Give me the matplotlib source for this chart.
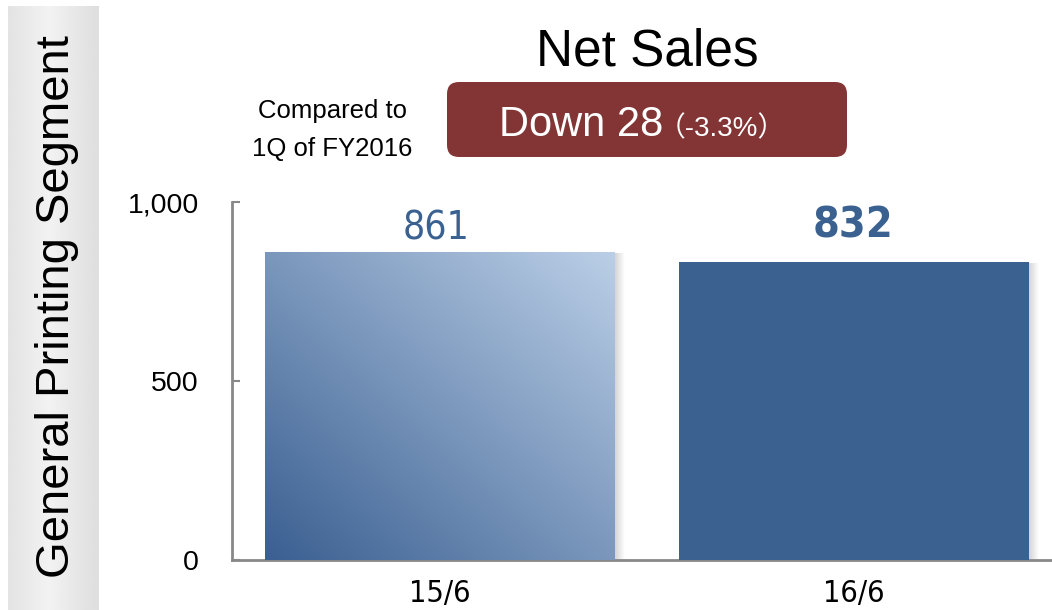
import numpy as np
import matplotlib
matplotlib.use("Agg")
import matplotlib.pyplot as plt
from matplotlib import font_manager
from matplotlib.patches import FancyBboxPatch

# data
periods = ["15/6", "16/6"]
net_sales = [861, 832]
y_ticks = [0, 500, 1000]
y_tick_labels = ["0", "500", "1,000"]
segment = "General Printing Segment"
title = "Net Sales"
compare_text = "Compared to\n1Q of FY2016"
change_main = "Down 28"
change_pct = "（-3.3%）"

BLUE = "#3A6190"
RED_BOX = "#833535"
SANS = "Liberation Sans"


def narrow_file(bold=False):
    # look for any condensed / narrow sans face that is installed
    cands = []
    for f in font_manager.fontManager.ttflist:
        nm = f.name.lower()
        fn = f.fname.lower()
        narrowish = ("narrow" in nm or "condensed" in nm or "condensed" in fn
                     or "narrow" in fn or str(f.stretch) in ("condensed", "semi-condensed"))
        if not narrowish or "italic" in fn or "oblique" in fn or f.style != "normal":
            continue
        w = f.weight if isinstance(f.weight, int) else (700 if f.weight == "bold" else 400)
        score = abs(w - (700 if bold else 400))
        if "light" in fn or "thin" in fn or "medium" in fn or "black" in fn:
            score += 50
        if "serif" in nm and "sans" not in nm:
            score += 1000
        if "mono" in nm:
            score += 1000
        cands.append((score, f.fname))
    if cands:
        cands.sort()
        return cands[0][1]
    return None


NARROW = narrow_file()
NARROW_BOLD = narrow_file(bold=True)


def narrow(size, bold=False):
    fname = NARROW_BOLD if bold else NARROW
    if fname:
        return font_manager.FontProperties(fname=fname, size=size)
    return font_manager.FontProperties(family=SANS, size=size,
                                       weight="bold" if bold else "normal")


fig = plt.figure(figsize=(10.52, 6.10), dpi=100)

# overlay in pixel coordinates for the decorations
bg = fig.add_axes([0, 0, 1, 1], zorder=0)
bg.set_xlim(0, 1052)
bg.set_ylim(610, 0)
bg.axis("off")

# grey side band with soft horizontal gradient
xs = np.linspace(0, 1, 200)
shade = np.interp(xs, [0, 0.45, 1], [0.89, 0.95, 0.87])
band = np.tile(shade, (2, 1))
bg.imshow(band, cmap="gray", vmin=0, vmax=1, extent=(8, 99, 610, 6),
          aspect="auto", interpolation="bilinear")
bg.text(57, 307, segment, rotation=90, ha="center", va="center",
        fontsize=34, family=SANS, color="black")

bg.text(647, 65, title, ha="center", va="baseline", fontsize=37, family=SANS)
bg.text(332, 130, compare_text, ha="center", va="center", fontsize=18.5,
        family=SANS, linespacing=1.75)

box = FancyBboxPatch((447, 82), 400, 75, boxstyle="round,pad=0,rounding_size=12",
                     fc=RED_BOX, ec="none")
bg.add_patch(box)
bg.text(663, 136, change_main, ha="right", va="baseline", fontsize=30,
        family=SANS, color="white")
bg.text(658, 136, change_pct, ha="left", va="baseline", fontsize=20,
        family=[SANS, "Noto Sans CJK JP"], color="white")

# main chart
ax = fig.add_axes([232 / 1052, 50 / 610, 820 / 1052, 358 / 610], zorder=1)
ax.patch.set_visible(False)
x = np.arange(len(periods))
w = 0.845
bars = ax.bar(x, net_sales, width=w, color=[BLUE, BLUE], zorder=3)

# soft shadow on the right side of each bar
sh = np.linspace(0.3, 0, 20)
shadow = np.zeros((2, 20, 4))
shadow[..., :3] = 0.45
shadow[..., 3] = sh
for xi, v in zip(x, net_sales):
    ax.imshow(shadow, extent=(xi + w / 2, xi + w / 2 + 0.022, 0, v - 4),
              aspect="auto", interpolation="bilinear", zorder=2)

# diagonal gradient for the previous-year bar
gx, gy = np.meshgrid(np.linspace(0, 1, 256), np.linspace(0, 1, 256))
t = (gx + gy) / 2
dark = np.array([58, 95, 145]) / 255
light = np.array([187, 207, 231]) / 255
grad = dark + (light - dark) * t[..., None]
b0 = bars[0]
im = ax.imshow(grad, origin="lower",
               extent=(b0.get_x(), b0.get_x() + b0.get_width(), 0, b0.get_height()),
               aspect="auto", interpolation="bilinear", zorder=4)
im.set_clip_path(b0)

ax.annotate(str(net_sales[0]), (x[0], net_sales[0]), xytext=(-3, 9),
            textcoords="offset points", ha="center", va="baseline",
            color=BLUE, fontproperties=narrow(28))
ax.annotate(str(net_sales[1]), (x[1], net_sales[1]), xytext=(-1, 18),
            textcoords="offset points", ha="center", va="baseline",
            color=BLUE, fontproperties=narrow(31, bold=True))

ax.set_xlim(-0.502, 1.478)
ax.set_ylim(0, 1000)
ax.set_yticks(y_ticks)
ax.set_yticklabels(y_tick_labels, family=SANS, fontsize=20.5)
ax.set_xticks(x)
ax.set_xticklabels(periods, fontproperties=narrow(22))
ax.tick_params(axis="y", direction="in", length=6, width=1.5, color="#888888", pad=24)
ax.tick_params(axis="x", length=0, pad=14)
for s in ["top", "right"]:
    ax.spines[s].set_visible(False)
for s in ["left", "bottom"]:
    ax.spines[s].set_color("#888888")
    ax.spines[s].set_linewidth(2)

fig.savefig("out.png", dpi=100)
